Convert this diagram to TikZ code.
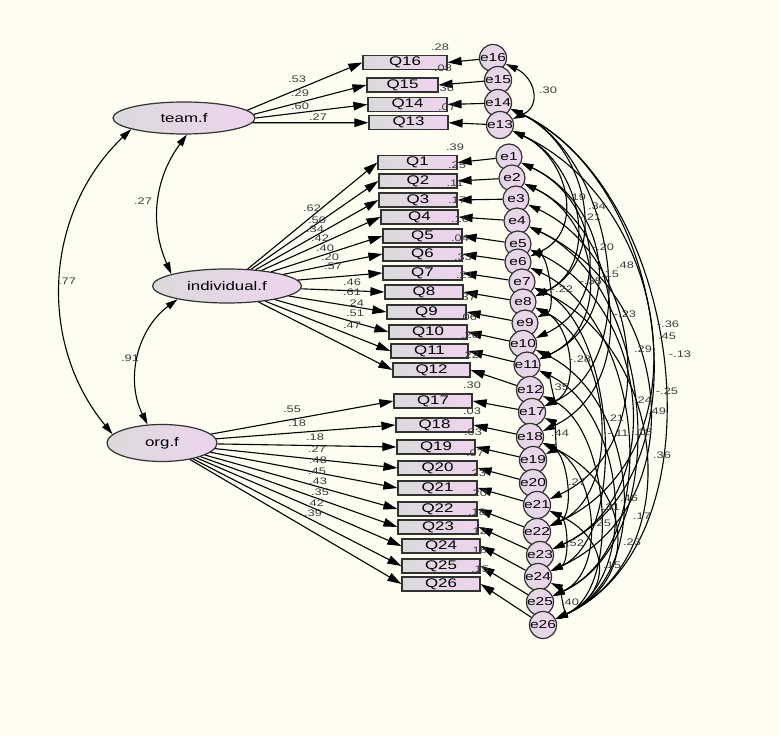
\documentclass[tikz,border=0pt]{standalone}
\usepackage{fontspec}
\setmainfont{Liberation Sans}[FakeStretch=1.35]
\usetikzlibrary{shapes.geometric,arrows.meta}
\definecolor{bgc}{RGB}{253,253,242}
\definecolor{boxl}{RGB}{218,218,218}
\definecolor{boxr}{RGB}{238,212,238}
\definecolor{bordc}{RGB}{50,50,50}
\definecolor{labc}{RGB}{60,60,60}
\tikzset{
  obs/.style={rectangle, draw=bordc, line width=1.2pt, left color=boxl, right color=boxr, minimum height=14pt, inner sep=0pt, font=\fontsize{12.5}{12.5}\selectfont},
  lat/.style={ellipse, draw=bordc, line width=1.2pt, left color=boxl, right color=boxr, inner sep=0pt, font=\fontsize{12.5}{12.5}\selectfont},
  err/.style={circle, draw=bordc, line width=1.2pt, left color=boxl!60!boxr, right color=boxr, minimum size=26pt, inner sep=0pt, font=\fontsize{11.5}{11.5}\selectfont},
  arr/.style={-{Triangle[length=14pt,width=8.5pt]}, line width=1.1pt, draw=black},
  cov/.style={{Triangle[length=12pt,width=7pt]}-{Triangle[length=12pt,width=7pt]}, line width=1.1pt, draw=black},
  lab/.style={font=\fontsize{9.5}{9.5}\selectfont, text=labc, inner sep=0pt},
}
\begin{document}
\begin{tikzpicture}[x=1pt,y=1pt]
\fill[bgc] (0,0) rectangle (780,736);
\useasboundingbox (0,0) rectangle (780,736);

% latent factors
\node[lat, minimum width=142pt, minimum height=32pt] (team) at (184,618) {team.f};
\node[lat, minimum width=149pt, minimum height=34pt] (indiv) at (227,450) {individual.f};
\node[lat, minimum width=110pt, minimum height=37pt] (org) at (162,293) {org.f};

% observed variables
\foreach \n/\x/\y/\w in {16/405/673.5/84, 15/402.5/651/71, 14/407.5/631.5/79, 13/408.5/613.3/79,
  1/417.5/573.5/79, 2/418/555/78, 3/418/536/78, 4/419.5/519/77, 5/422.5/500/79, 6/422.5/482/79,
  7/422.5/463/79, 8/424/444/78, 9/426.5/424/79, 10/428/404/78, 11/429.5/385/77, 12/431.5/366/77,
  17/433/335/78, 18/434.5/311/77, 19/436/289/78, 20/437.5/268/79, 21/437.5/248/79, 22/437.5/227/79,
  23/438/209/80, 24/441/190/78, 25/441/170/78, 26/441/152/78}
  \node[obs, minimum width=\w pt] (q\n) at (\x,\y) {Q\n};

% error terms
\foreach \n/\x/\y in {16/493/678, 15/498/656, 14/498/633, 13/500/611, 1/509/579, 2/512/558,
  3/516/537, 4/517/515, 5/518/492, 6/518/474, 7/522/454, 8/523/434, 9/525/413, 10/523/392,
  11/527/371, 12/530/346, 17/532/324, 18/530/299, 19/533/276, 20/533/253, 21/537/231,
  22/537/204, 23/540/181, 24/538/159, 25/540/134, 26/543/111}
  \node[err] (e\n) at (\x,\y) {e\n};

% loadings
\draw[arr] (team.7) -- (q16.west);
\draw[arr] (team.3) -- (q15.west);
\draw[arr] (team.0) -- (q14.west);
\draw[arr] (team.-4) -- (q13.west);
\foreach \n in {1,...,12} \draw[arr] (indiv) -- (q\n.west);
\foreach \n in {17,...,26} \draw[arr] (org) -- (q\n.west);

% error paths
\foreach \n in {16,15,14,13,1,2,3,4,5,6,7,8,9,10,11,12,17,18,19,20,21,22,23,24,25,26}
  \draw[arr] (e\n) -- (q\n.east);

% factor correlations
\draw[cov] (team.192) to[bend right=43] (org.170);
\draw[cov] (team.280) to[bend right=30] (indiv.168);
\draw[cov] (indiv.195) to[bend right=40] (org.128);

% error covariances
\foreach \a/\b/\l in {16/13/1.47, 13/6/1.23, 14/8/1.15, 13/8/1.14, 1/10/1.25, 14/17/0.96,
  2/11/1.19, 1/11/1.25, 5/9/0.76, 2/18/1.12, 13/22/1.12, 14/23/1.0, 14/26/0.95, 3/21/1.09,
  8/17/1.03, 11/17/0.75, 4/24/1.18, 5/23/1.11, 4/25/0.95, 8/22/0.97, 6/25/0.97, 7/24/0.79,
  17/19/0.8, 7/26/1.13, 18/22/0.85, 12/26/0.84, 11/26/0.98, 10/26/1.05, 18/25/1.0, 18/26/1.4,
  21/24/0.88, 21/26/1.53, 24/26/0.66}
  \draw[cov] (e\a) to[out=-25,in=25,looseness=\l] (e\b);

% factor correlation labels
\node[lab] (k1) at (67,455) {.77};
\node[lab] (k2) at (143,535) {.27};
\node[lab] (k3) at (130,378) {.91};

% loading labels
\foreach \t/\x/\y [count=\i] in {.53/297/657, .29/300/643, .60/300/630, .27/318/619,
  .62/312/528, .50/317/516, .34/315/507, .42/320/498, .40/325/488, .20/330/479, .57/333/470,
  .46/352/454, .61/352/444, .24/355/433, .51/355/423, .47/352/411,
  .55/292/327, .18/297/313, .18/315/299, .27/317/287, .48/318/276, .45/317/265, .43/318/255,
  .35/320/244, .42/315/233, .39/313/223}
  \node[lab] (ld\i) at (\x,\y) {\t};

% squared multiple correlations
\foreach \t/\x/\y [count=\i] in {.28/440/689, .08/443/668, .36/445/648, .07/447/629,
  .39/455/589, .25/457/571, .11/455/553, .17/457/536, .16/460/517, .04/460/498, .33/463/479,
  .21/465/461, .37/467/439, .06/468/419, .26/470/401, .22/470/381,
  .30/472/351, .03/472/325, .03/473/304, .07/475/283, .23/477/263, .20/478/243, .18/477/224,
  .12/478/205, .18/478/186, .15/480/167}
  \node[lab] (rs\i) at (\x,\y) {\t};

% covariance labels
\foreach \t/\x/\y [count=\i] in {.30/548/646, .19/577/539, .34/597/530, -.21/590/519,
  -.20/603/489, .48/625/471, .15/610/462, -.35/591/455, -.22/562/447, -.23/625/422,
  -.36/668/412, .45/667/400, -.13/680/382, .29/643/387, -.28/580/377, .35/560/349,
  -.25/667/345, .24/643/336, .49/657/325, -.21/613/318, -.11/618/303, .18/643/304,
  .44/560/303, .36/662/281, .27/577/254, .31/611/229, .46/629/238, .17/642/220,
  .25/602/213, .23/632/194, .52/575/193, .15/612/171, .40/570/134}
  \node[lab] (cv\i) at (\x,\y) {\t};
\end{tikzpicture}
\end{document}
